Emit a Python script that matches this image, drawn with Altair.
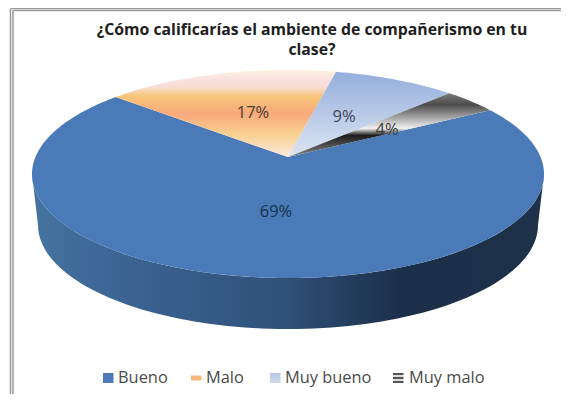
import numpy as np
import pandas as pd
import altair as alt

categories = ["Bueno", "Malo", "Muy bueno", "Muy malo"]
values = [69, 17, 9, 4]
title_lines = ["¿Cómo calificarías el ambiente de compañerismo en tu", "clase?"]

FONT = "Open Sans"
X0, X1, Y0, Y1 = 8, 561, 8, 394
CX, CY, RX, RY = 288, 174, 256, 104          # top face ellipse
BCY, BRX, BRY = 225, 250, 104                 # bottom face ellipse
APEX_Y = 157
START = 30.0


def lin(*stops, x2=0, y2=1):
    return alt.Gradient(
        gradient="linear", x1=0, y1=0, x2=x2, y2=y2,
        stops=[alt.GradientStop(offset=o, color=c) for o, c in stops],
    )


BLUE = "#4a7bb8"
fills = {
    "Bueno": BLUE,
    "Malo": lin((0, "#fdf2dc"), (0.1, "#fae2e2"), (0.2, "#f9dcd2"), (0.3, "#f6c678"),
                (0.5, "#f8a97c"), (0.75, "#f8d292"), (1, "#fbe8e0")),
    "Muy bueno": lin((0, "#94aedc"), (1, "#dde5f2")),
    "Muy malo": lin((0, "#7a7a7a"), (0.18, "#4c4c4c"), (0.45, "#c4c4c4"), (0.55, "#f0f0f0"),
                    (0.66, "#1c1c1c"), (1, "#8a8a8a")),
}

a = (CY - APEX_Y) / RY
b = a / (1 + np.sqrt(1 - a * a))
c = 1j * b


def rim(theta_deg):
    z = np.exp(1j * np.radians(theta_deg))
    w = (z + c) / (1 + np.conj(c) * z)
    return CX + RX * w.real, CY - RY * w.imag


total = sum(values)
layers = []

# side wall
ph = np.radians(np.arange(180, 361, 2))
wx = np.r_[CX + RX * np.cos(ph), (CX + BRX * np.cos(ph))[::-1]]
wy = np.r_[CY - RY * np.sin(ph), (BCY - BRY * np.sin(ph))[::-1]]
wall = pd.DataFrame({"x": wx, "y": wy, "i": np.arange(len(wx))})

xs = alt.X("x:Q", scale=alt.Scale(domain=[X0, X1], nice=False, zero=False), axis=None)
ys = alt.Y("y:Q", scale=alt.Scale(domain=[Y1, Y0], nice=False, zero=False), axis=None)


def poly(df, fill):
    return alt.Chart(df).mark_line(fill=fill, stroke="transparent", strokeWidth=0, interpolate="linear").encode(
        x=xs, y=ys, order=alt.Order("i:Q")
    )


layers.append(poly(wall, lin((0, "#46749f"), (0.12, "#3d6898"), (0.5, "#2f5078"),
                             (0.72, "#1c2f4a"), (1, "#1d3148"), x2=1, y2=0)))

# top-face slices, clockwise
t = START
for name, v in zip(categories, values):
    span = 360 * v / total
    th = np.linspace(t, t - span, max(3, int(span)))
    rx, ry = rim(th)
    df = pd.DataFrame({"x": np.r_[CX, rx], "y": np.r_[APEX_Y, ry]})
    df["i"] = np.arange(len(df))
    layers.append(poly(df, fills[name]))
    t -= span

# percentage labels
lab = pd.DataFrame({
    "x": [276, 253, 344, 387], "y": [212, 113, 117, 130],
    "t": [f"{v}%" for v in values],
    "c": ["#16304f", "#4a3a2c", "#3c4658", "#3a3a3a"],
})
layers.append(alt.Chart(lab).mark_text(font=FONT, fontSize=16.5, align="center", baseline="middle").encode(
    x=xs, y=ys, text="t:N", color=alt.Color("c:N", scale=None)))

# title
tdf = pd.DataFrame({"x": [312, 312], "y": [30, 50], "t": title_lines})
layers.append(alt.Chart(tdf).mark_text(font=FONT, fontSize=15.8, fontWeight="bold", color="#1e1e1e",
                                       align="center", baseline="middle").encode(x=xs, y=ys, text="t:N"))

# legend
leg_x = [103, 191, 270, 393]
leg_tx = [118, 206, 285, 409]
leg_h = [5, 2.5, 5, 5]
leg_fill = [BLUE, "#f9b77c", lin((0, "#b4c6e6"), (1, "#d2ddf0")),
            lin((0, "#555555"), (0.22, "#555555"), (0.23, "#dddddd"), (0.4, "#dddddd"), (0.41, "#555555"),
                (0.6, "#555555"), (0.61, "#dddddd"), (0.78, "#dddddd"), (0.79, "#555555"), (1, "#555555"))]
LEG_Y = 378
for lx, h, f in zip(leg_x, leg_h, leg_fill):
    d = pd.DataFrame({"x": [lx], "x2": [lx + 10.5], "y": [LEG_Y - h], "y2": [LEG_Y + h]})
    layers.append(alt.Chart(d).mark_rect(fill=f).encode(x=xs, x2="x2:Q", y=ys, y2="y2:Q"))
ldf = pd.DataFrame({"x": leg_tx, "y": [LEG_Y] * 4, "t": categories})
layers.append(alt.Chart(ldf).mark_text(font=FONT, fontSize=16.4, color="#4a4a4a", align="left",
                                       baseline="middle").encode(x=xs, y=ys, text="t:N"))

# picture frame
fr_v = pd.DataFrame({"x": [10.5, 13], "y": [8.5, 10.5], "y2": [Y1, Y1]})
fr_h = pd.DataFrame({"x": [10.5, 13], "x2": [X1, X1], "y": [8.5, 10.5]})
layers.append(alt.Chart(fr_v).mark_rule(color="#9a9a9a", strokeWidth=1.5).encode(x=xs, y=ys, y2="y2:Q"))
layers.append(alt.Chart(fr_h).mark_rule(color="#9a9a9a", strokeWidth=1.5).encode(x=xs, x2="x2:Q", y=ys))

chart = alt.layer(*layers).properties(
    width=X1 - X0, height=Y1 - Y0, padding=0,
    autosize=alt.AutoSizeParams(type="none"),
).configure_view(stroke=None)

chart.save("out.html", embed_options={"renderer": "svg", "actions": False})
